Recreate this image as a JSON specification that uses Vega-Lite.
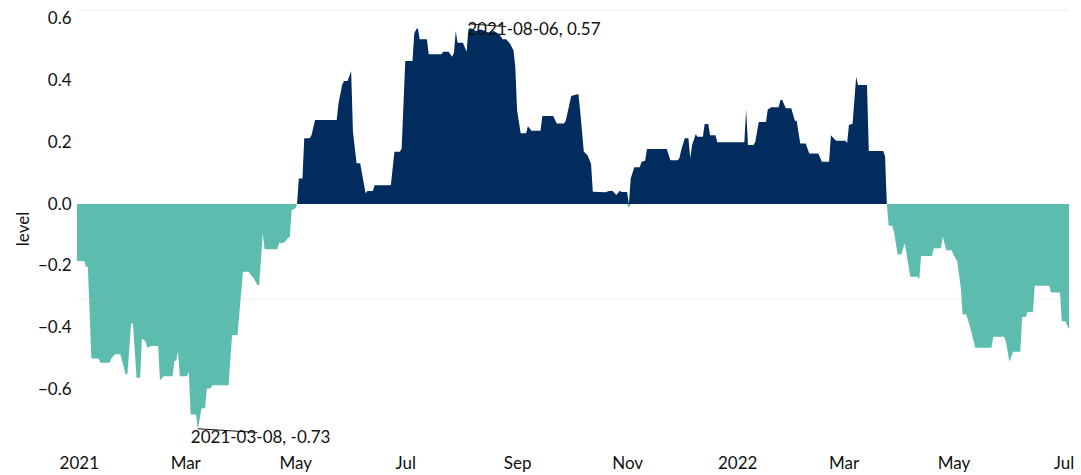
{
  "$schema": "https://vega.github.io/schema/vega-lite/v6.json",
  "width": 992,
  "height": 437,
  "autosize": {"type": "none"},
  "padding": {"left": 77, "top": 10, "right": 12, "bottom": 28},
  "background": "white",
  "config": {
    "view": {"stroke": null},
    "font": "Lato",
    "axis": {"labelColor": "#111111", "titleColor": "#111111", "labelFont": "Lato", "titleFont": "Lato"}
  },
  "datasets": {
    "neg": [
      {"date": "2020-12-31", "level": -0.184},
      {"date": "2021-01-04", "level": -0.184},
      {"date": "2021-01-05", "level": -0.203},
      {"date": "2021-01-06", "level": -0.203},
      {"date": "2021-01-08", "level": -0.5},
      {"date": "2021-01-12", "level": -0.5},
      {"date": "2021-01-13", "level": -0.513},
      {"date": "2021-01-18", "level": -0.513},
      {"date": "2021-01-19", "level": -0.5},
      {"date": "2021-01-21", "level": -0.486},
      {"date": "2021-01-24", "level": -0.486},
      {"date": "2021-01-25", "level": -0.507},
      {"date": "2021-01-27", "level": -0.553},
      {"date": "2021-01-28", "level": -0.548},
      {"date": "2021-01-30", "level": -0.386},
      {"date": "2021-01-31", "level": -0.386},
      {"date": "2021-02-02", "level": -0.562},
      {"date": "2021-02-04", "level": -0.562},
      {"date": "2021-02-05", "level": -0.435},
      {"date": "2021-02-07", "level": -0.445},
      {"date": "2021-02-08", "level": -0.465},
      {"date": "2021-02-10", "level": -0.459},
      {"date": "2021-02-14", "level": -0.459},
      {"date": "2021-02-15", "level": -0.57},
      {"date": "2021-02-17", "level": -0.557},
      {"date": "2021-02-22", "level": -0.557},
      {"date": "2021-02-23", "level": -0.507},
      {"date": "2021-02-24", "level": -0.507},
      {"date": "2021-02-25", "level": -0.476},
      {"date": "2021-02-26", "level": -0.557},
      {"date": "2021-03-02", "level": -0.557},
      {"date": "2021-03-03", "level": -0.543},
      {"date": "2021-03-04", "level": -0.681},
      {"date": "2021-03-07", "level": -0.681},
      {"date": "2021-03-08", "level": -0.73},
      {"date": "2021-03-10", "level": -0.661},
      {"date": "2021-03-12", "level": -0.661},
      {"date": "2021-03-13", "level": -0.597},
      {"date": "2021-03-15", "level": -0.597},
      {"date": "2021-03-16", "level": -0.586},
      {"date": "2021-03-25", "level": -0.586},
      {"date": "2021-03-27", "level": -0.424},
      {"date": "2021-03-30", "level": -0.424},
      {"date": "2021-04-02", "level": -0.219},
      {"date": "2021-04-05", "level": -0.219},
      {"date": "2021-04-08", "level": -0.24},
      {"date": "2021-04-10", "level": -0.262},
      {"date": "2021-04-11", "level": -0.262},
      {"date": "2021-04-13", "level": -0.095},
      {"date": "2021-04-14", "level": -0.146},
      {"date": "2021-04-21", "level": -0.146},
      {"date": "2021-04-22", "level": -0.127},
      {"date": "2021-04-25", "level": -0.124},
      {"date": "2021-04-27", "level": -0.11},
      {"date": "2021-04-28", "level": -0.106},
      {"date": "2021-04-29", "level": -0.019},
      {"date": "2021-05-01", "level": -0.014},
      {"date": "2021-05-02", "level": 0},
      {"date": "2021-11-01", "level": 0},
      {"date": "2021-11-02", "level": -0.012},
      {"date": "2021-11-03", "level": 0},
      {"date": "2022-03-25", "level": 0},
      {"date": "2022-03-26", "level": -0.07},
      {"date": "2022-03-28", "level": -0.07},
      {"date": "2022-03-29", "level": -0.09},
      {"date": "2022-03-31", "level": -0.163},
      {"date": "2022-04-02", "level": -0.163},
      {"date": "2022-04-04", "level": -0.127},
      {"date": "2022-04-07", "level": -0.235},
      {"date": "2022-04-11", "level": -0.235},
      {"date": "2022-04-12", "level": -0.243},
      {"date": "2022-04-13", "level": -0.168},
      {"date": "2022-04-19", "level": -0.168},
      {"date": "2022-04-20", "level": -0.143},
      {"date": "2022-04-24", "level": -0.143},
      {"date": "2022-04-25", "level": -0.106},
      {"date": "2022-04-27", "level": -0.149},
      {"date": "2022-04-30", "level": -0.149},
      {"date": "2022-05-01", "level": -0.165},
      {"date": "2022-05-03", "level": -0.184},
      {"date": "2022-05-05", "level": -0.27},
      {"date": "2022-05-06", "level": -0.357},
      {"date": "2022-05-08", "level": -0.357},
      {"date": "2022-05-10", "level": -0.394},
      {"date": "2022-05-13", "level": -0.465},
      {"date": "2022-05-22", "level": -0.465},
      {"date": "2022-05-23", "level": -0.429},
      {"date": "2022-05-29", "level": -0.429},
      {"date": "2022-05-30", "level": -0.445},
      {"date": "2022-06-01", "level": -0.51},
      {"date": "2022-06-03", "level": -0.478},
      {"date": "2022-06-07", "level": -0.478},
      {"date": "2022-06-08", "level": -0.365},
      {"date": "2022-06-10", "level": -0.365},
      {"date": "2022-06-11", "level": -0.349},
      {"date": "2022-06-14", "level": -0.349},
      {"date": "2022-06-15", "level": -0.264},
      {"date": "2022-06-23", "level": -0.264},
      {"date": "2022-06-24", "level": -0.286},
      {"date": "2022-06-29", "level": -0.286},
      {"date": "2022-06-30", "level": -0.379},
      {"date": "2022-07-02", "level": -0.379},
      {"date": "2022-07-04", "level": -0.405}
    ],
    "pos": [
      {"date": "2021-05-02", "level": 0},
      {"date": "2021-05-03", "level": 0.083},
      {"date": "2021-05-05", "level": 0.083},
      {"date": "2021-05-06", "level": 0.213},
      {"date": "2021-05-09", "level": 0.213},
      {"date": "2021-05-10", "level": 0.223},
      {"date": "2021-05-12", "level": 0.272},
      {"date": "2021-05-24", "level": 0.272},
      {"date": "2021-05-25", "level": 0.326},
      {"date": "2021-05-27", "level": 0.385},
      {"date": "2021-05-28", "level": 0.398},
      {"date": "2021-05-30", "level": 0.398},
      {"date": "2021-06-01", "level": 0.43},
      {"date": "2021-06-02", "level": 0.234},
      {"date": "2021-06-04", "level": 0.132},
      {"date": "2021-06-06", "level": 0.132},
      {"date": "2021-06-07", "level": 0.1},
      {"date": "2021-06-09", "level": 0.035},
      {"date": "2021-06-10", "level": 0.042},
      {"date": "2021-06-13", "level": 0.042},
      {"date": "2021-06-14", "level": 0.061},
      {"date": "2021-06-23", "level": 0.061},
      {"date": "2021-06-25", "level": 0.169},
      {"date": "2021-06-28", "level": 0.169},
      {"date": "2021-06-29", "level": 0.18},
      {"date": "2021-07-01", "level": 0.463},
      {"date": "2021-07-05", "level": 0.463},
      {"date": "2021-07-06", "level": 0.552},
      {"date": "2021-07-07", "level": 0.565},
      {"date": "2021-07-08", "level": 0.569},
      {"date": "2021-07-09", "level": 0.533},
      {"date": "2021-07-13", "level": 0.533},
      {"date": "2021-07-14", "level": 0.485},
      {"date": "2021-07-21", "level": 0.485},
      {"date": "2021-07-22", "level": 0.493},
      {"date": "2021-07-25", "level": 0.493},
      {"date": "2021-07-27", "level": 0.477},
      {"date": "2021-07-28", "level": 0.49},
      {"date": "2021-07-29", "level": 0.56},
      {"date": "2021-07-30", "level": 0.522},
      {"date": "2021-08-02", "level": 0.522},
      {"date": "2021-08-04", "level": 0.493},
      {"date": "2021-08-05", "level": 0.565},
      {"date": "2021-08-06", "level": 0.57},
      {"date": "2021-08-09", "level": 0.56},
      {"date": "2021-08-12", "level": 0.565},
      {"date": "2021-08-16", "level": 0.555},
      {"date": "2021-08-19", "level": 0.56},
      {"date": "2021-08-22", "level": 0.55},
      {"date": "2021-08-24", "level": 0.533},
      {"date": "2021-08-26", "level": 0.533},
      {"date": "2021-08-28", "level": 0.52},
      {"date": "2021-08-30", "level": 0.498},
      {"date": "2021-08-31", "level": 0.444},
      {"date": "2021-09-01", "level": 0.304},
      {"date": "2021-09-03", "level": 0.229},
      {"date": "2021-09-06", "level": 0.229},
      {"date": "2021-09-07", "level": 0.252},
      {"date": "2021-09-09", "level": 0.237},
      {"date": "2021-09-14", "level": 0.237},
      {"date": "2021-09-15", "level": 0.285},
      {"date": "2021-09-21", "level": 0.285},
      {"date": "2021-09-23", "level": 0.261},
      {"date": "2021-09-27", "level": 0.261},
      {"date": "2021-09-28", "level": 0.27},
      {"date": "2021-10-01", "level": 0.35},
      {"date": "2021-10-05", "level": 0.356},
      {"date": "2021-10-06", "level": 0.3},
      {"date": "2021-10-08", "level": 0.169},
      {"date": "2021-10-10", "level": 0.159},
      {"date": "2021-10-12", "level": 0.13},
      {"date": "2021-10-13", "level": 0.04},
      {"date": "2021-10-20", "level": 0.038},
      {"date": "2021-10-22", "level": 0.042},
      {"date": "2021-10-24", "level": 0.042},
      {"date": "2021-10-26", "level": 0.029},
      {"date": "2021-10-28", "level": 0.043},
      {"date": "2021-10-29", "level": 0.039},
      {"date": "2021-11-01", "level": 0.039},
      {"date": "2021-11-02", "level": 0},
      {"date": "2021-11-03", "level": 0.083},
      {"date": "2021-11-05", "level": 0.119},
      {"date": "2021-11-08", "level": 0.119},
      {"date": "2021-11-09", "level": 0.137},
      {"date": "2021-11-11", "level": 0.14},
      {"date": "2021-11-12", "level": 0.178},
      {"date": "2021-11-23", "level": 0.178},
      {"date": "2021-11-25", "level": 0.142},
      {"date": "2021-11-29", "level": 0.142},
      {"date": "2021-11-30", "level": 0.148},
      {"date": "2021-12-01", "level": 0.175},
      {"date": "2021-12-03", "level": 0.213},
      {"date": "2021-12-05", "level": 0.213},
      {"date": "2021-12-06", "level": 0.148},
      {"date": "2021-12-07", "level": 0.19},
      {"date": "2021-12-09", "level": 0.226},
      {"date": "2021-12-10", "level": 0.218},
      {"date": "2021-12-13", "level": 0.218},
      {"date": "2021-12-14", "level": 0.259},
      {"date": "2021-12-16", "level": 0.259},
      {"date": "2021-12-17", "level": 0.223},
      {"date": "2021-12-20", "level": 0.223},
      {"date": "2021-12-21", "level": 0.2},
      {"date": "2022-01-05", "level": 0.2},
      {"date": "2022-01-06", "level": 0.306},
      {"date": "2022-01-07", "level": 0.191},
      {"date": "2022-01-10", "level": 0.191},
      {"date": "2022-01-11", "level": 0.2},
      {"date": "2022-01-13", "level": 0.266},
      {"date": "2022-01-17", "level": 0.266},
      {"date": "2022-01-18", "level": 0.306},
      {"date": "2022-01-20", "level": 0.313},
      {"date": "2022-01-24", "level": 0.313},
      {"date": "2022-01-25", "level": 0.337},
      {"date": "2022-01-26", "level": 0.337},
      {"date": "2022-01-28", "level": 0.31},
      {"date": "2022-01-31", "level": 0.31},
      {"date": "2022-02-02", "level": 0.27},
      {"date": "2022-02-03", "level": 0.27},
      {"date": "2022-02-05", "level": 0.196},
      {"date": "2022-02-08", "level": 0.196},
      {"date": "2022-02-10", "level": 0.164},
      {"date": "2022-02-15", "level": 0.164},
      {"date": "2022-02-17", "level": 0.137},
      {"date": "2022-02-21", "level": 0.137},
      {"date": "2022-02-22", "level": 0.223},
      {"date": "2022-02-24", "level": 0.21},
      {"date": "2022-02-25", "level": 0.205},
      {"date": "2022-03-02", "level": 0.205},
      {"date": "2022-03-03", "level": 0.198},
      {"date": "2022-03-04", "level": 0.256},
      {"date": "2022-03-06", "level": 0.26},
      {"date": "2022-03-08", "level": 0.412},
      {"date": "2022-03-09", "level": 0.385},
      {"date": "2022-03-14", "level": 0.385},
      {"date": "2022-03-15", "level": 0.172},
      {"date": "2022-03-23", "level": 0.172},
      {"date": "2022-03-24", "level": 0.155},
      {"date": "2022-03-25", "level": 0}
    ],
    "grid": [{"level": 0.628}, {"level": -0.308}],
    "notes": [
      {"date": "2021-03-08", "level": -0.73, "label": "2021-03-08, -0.73", "kind": "min", "lineStart": -0.727, "lineEnd": -0.739, "lineEndDate": "2021-04-10"},
      {"date": "2021-08-06", "level": 0.57, "label": "2021-08-06, 0.57", "kind": "max", "lineStart": 0.583, "lineEnd": 0.574, "lineEndDate": "2021-08-26"}
    ]
  },
  "encoding": {
    "x": {
      "field": "date",
      "type": "temporal",
      "scale": {
        "type": "utc",
        "domain": [
          {"year": 2020, "month": 12, "date": 31, "utc": true},
          {"year": 2022, "month": 7, "date": 4, "utc": true}
        ]
      },
      "axis": {
        "title": null,
        "grid": false,
        "ticks": false,
        "domain": false,
        "labelFontSize": 17,
        "labelPadding": 8,
        "labelFlush": false,
        "labelOverlap": false,
        "tickCount": {"interval": "month", "step": 2},
        "labelExpr": "utcmonth(datum.value) == 0 ? utcFormat(datum.value, '%Y') : utcFormat(datum.value, '%b')"
      }
    },
    "y": {
      "field": "level",
      "type": "quantitative",
      "scale": {"domain": [-0.786, 0.628], "nice": false, "zero": false},
      "axis": {
        "title": "level",
        "values": [-0.6, -0.4, -0.2, 0, 0.2, 0.4, 0.6],
        "labelExpr": "replace(format(datum.value, '.1f'), '-', '\u2212')",
        "grid": false,
        "ticks": false,
        "domain": false,
        "labelFontSize": 17,
        "labelPadding": 6,
        "titleFontSize": 17,
        "titleFontWeight": "normal",
        "titlePadding": 5
      }
    }
  },
  "layer": [
    {
      "data": {"name": "neg"},
      "mark": {"type": "area", "color": "#5cbdaf", "interpolate": "linear"}
    },
    {
      "data": {"name": "pos"},
      "mark": {"type": "area", "color": "#022c5e", "interpolate": "linear"}
    },
    {
      "data": {"name": "grid"},
      "mark": {"type": "rule", "color": "#bbbbbb", "opacity": 0.25, "strokeWidth": 1},
      "encoding": {"x": null, "y": {"field": "level", "type": "quantitative"}}
    },
    {
      "data": {"name": "notes"},
      "mark": {"type": "rule", "color": "#111111", "strokeWidth": 1},
      "encoding": {
        "y": {"field": "lineStart", "type": "quantitative"},
        "x2": {"field": "lineEndDate"},
        "y2": {"field": "lineEnd"}
      }
    },
    {
      "data": {"name": "notes"},
      "transform": [{"filter": "datum.kind == 'min'"}],
      "mark": {"type": "text", "align": "left", "baseline": "middle", "dx": -7, "dy": 8, "fontSize": 17, "color": "#111111"},
      "encoding": {"text": {"field": "label"}}
    },
    {
      "data": {"name": "notes"},
      "transform": [{"filter": "datum.kind == 'max'"}],
      "mark": {"type": "text", "align": "left", "baseline": "middle", "dx": -3, "dy": 2, "fontSize": 17, "color": "#111111"},
      "encoding": {"text": {"field": "label"}}
    }
  ]
}
